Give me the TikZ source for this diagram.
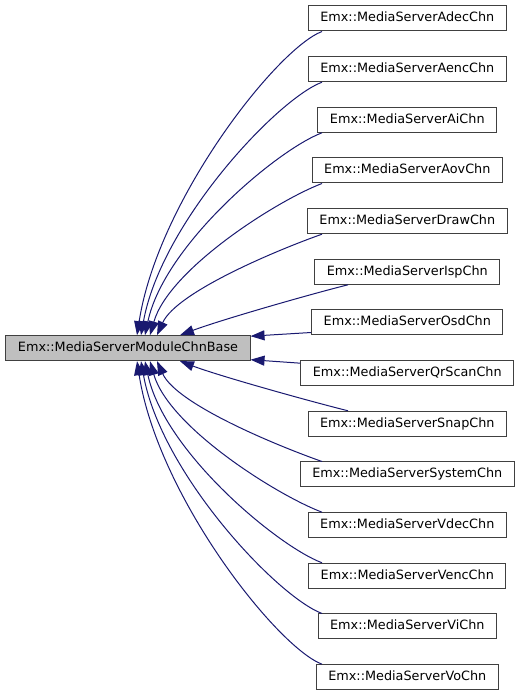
\documentclass[tikz,border=0pt]{standalone}
\usepackage{fontspec}
\setmainfont{DejaVu Sans}
\usepackage{tikz}
\usetikzlibrary{arrows.meta, positioning}
\definecolor{edgeblue}{RGB}{25,25,112}
\definecolor{boxline}{RGB}{64,64,64}
\definecolor{basefill}{RGB}{191,191,191}
\tikzset{
    classbox/.style={rectangle, draw=boxline, line width=1pt, fill=white, minimum height=25pt, inner xsep=12pt, text height=9.6pt, text depth=2.6pt, font=\fontsize{12.8}{15}\selectfont},
    basebox/.style={classbox, fill=basefill},
    inherit/.style={-{Triangle[length=14pt, width=10pt]}, color=edgeblue, line width=1pt}
}

\begin{document}
\begin{tikzpicture} [
    x=1pt, y=1pt
]
    \useasboundingbox (0,0) rectangle (520,696);

    % Base class
    \node[basebox] (base) at (128,347.8) {Emx::MediaServerModuleChnBase};

    % Derived classes
    \node[classbox] (adec) at (407.3,677.5) {Emx::MediaServerAdecChn};
    \node[classbox] (aenc) at (407.3,626.8) {Emx::MediaServerAencChn};
    \node[classbox] (ai) at (407.3,576.2) {Emx::MediaServerAiChn};
    \node[classbox] (aov) at (407.3,525.5) {Emx::MediaServerAovChn};
    \node[classbox] (draw) at (407.3,474.8) {Emx::MediaServerDrawChn};
    \node[classbox] (isp) at (407.3,424.2) {Emx::MediaServerIspChn};
    \node[classbox] (osd) at (407.3,373.5) {Emx::MediaServerOsdChn};
    \node[classbox] (qrscan) at (407.3,322.8) {Emx::MediaServerQrScanChn};
    \node[classbox] (snap) at (407.3,272.2) {Emx::MediaServerSnapChn};
    \node[classbox] (system) at (407.3,221.5) {Emx::MediaServerSystemChn};
    \node[classbox] (vdec) at (407.3,170.8) {Emx::MediaServerVdecChn};
    \node[classbox] (venc) at (407.3,120.2) {Emx::MediaServerVencChn};
    \node[classbox] (vi) at (407.3,69.5) {Emx::MediaServerViChn};
    \node[classbox] (vo) at (407.3,18.8) {Emx::MediaServerVoChn};

    % Where the edges leave the derived boxes
    \coordinate (fan) at (322,0);
    \coordinate (fannear) at (348,0);

    % Inheritance, upper half
    \draw[inherit] (adec.south -| fan) .. controls +(-45,-17) and +(21,135) .. ([xshift=9pt]base.north);
    \draw[inherit] (aenc.south -| fan) .. controls +(-45,-17) and +(20,112) .. ([xshift=13pt]base.north);
    \draw[inherit] (ai.south -| fan) .. controls +(-45,-17) and +(19,90) .. ([xshift=17pt]base.north);
    \draw[inherit] (aov.south -| fan) .. controls +(-45,-17) and +(19,66) .. ([xshift=22pt]base.north);
    \draw[inherit] (draw.south -| fan) .. controls +(-40,-14) and +(20,44) .. ([xshift=29pt]base.north);
    \draw[inherit] (isp.south -| fannear) .. controls +(-40,-10) and +(40,15) .. ([xshift=52pt]base.north);

    % Inheritance, straight ones
    \draw[inherit] ([yshift=3pt]osd.south west) -- ([yshift=-1pt]base.north east);
    \draw[inherit] ([yshift=-3pt]qrscan.north west) -- ([yshift=1.5pt]base.south east);

    % Inheritance, lower half
    \draw[inherit] (snap.north -| fannear) .. controls +(-40,10) and +(40,-15) .. ([xshift=52pt]base.south);
    \draw[inherit] (system.north -| fan) .. controls +(-40,14) and +(20,-44) .. ([xshift=29pt]base.south);
    \draw[inherit] (vdec.north -| fan) .. controls +(-45,17) and +(19,-66) .. ([xshift=22pt]base.south);
    \draw[inherit] (venc.north -| fan) .. controls +(-45,17) and +(19,-90) .. ([xshift=17pt]base.south);
    \draw[inherit] (vi.north -| fan) .. controls +(-45,17) and +(20,-112) .. ([xshift=13pt]base.south);
    \draw[inherit] (vo.north -| fan) .. controls +(-45,17) and +(21,-135) .. ([xshift=9pt]base.south);
\end{tikzpicture}
\end{document}
